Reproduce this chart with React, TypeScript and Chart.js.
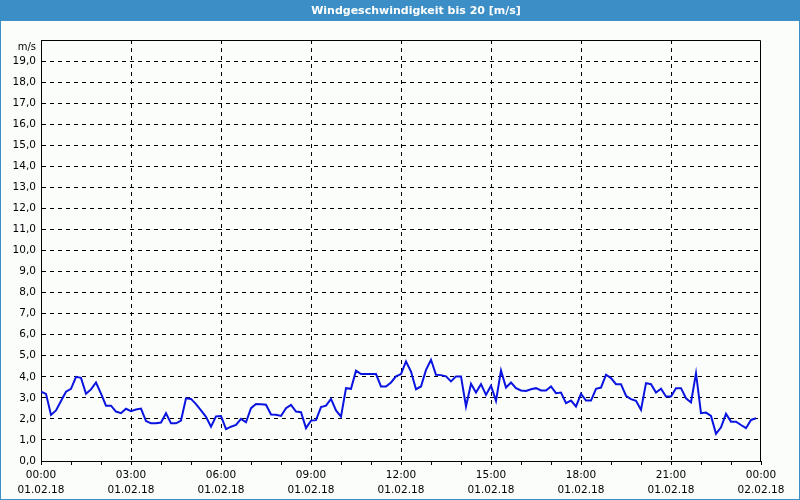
import React, { useEffect, useRef } from "react";
import { Chart, registerables } from "chart.js";

Chart.register(...registerables);

const TITLE = "Windgeschwindigkeit bis 20 [m/s]";
const UNIT = "m/s";
const DATE_START = "01.02.18";
const DATE_END = "02.02.18";
const STEP_MINUTES = 10;

// wind speed every 10 minutes, 01.02.18 00:00 – 23:50
const windSpeed: number[] = [
  3.3, 3.19, 2.19, 2.4, 2.85, 3.29, 3.43, 4.0, 3.95, 3.19,
  3.4, 3.73, 3.2, 2.63, 2.63, 2.35, 2.27, 2.48, 2.37, 2.45,
  2.49, 1.9, 1.79, 1.79, 1.83, 2.27, 1.79, 1.79, 1.92, 2.98,
  2.95, 2.7, 2.4, 2.1, 1.63, 2.12, 2.14, 1.51, 1.63, 1.71,
  2.0, 1.84, 2.51, 2.71, 2.7, 2.67, 2.21, 2.2, 2.14, 2.51,
  2.67, 2.35, 2.32, 1.56, 1.92, 1.94, 2.56, 2.63, 2.95, 2.4,
  2.11, 3.46, 3.43, 4.29, 4.13, 4.13, 4.13, 4.13, 3.54, 3.54,
  3.73, 4.02, 4.13, 4.73, 4.25, 3.41, 3.54, 4.33, 4.81, 4.1,
  4.08, 4.02, 3.78, 4.02, 4.02, 2.59, 3.67, 3.25, 3.65, 3.14,
  3.57, 2.86, 4.3, 3.49, 3.73, 3.46, 3.35, 3.33, 3.41, 3.46,
  3.35, 3.35, 3.54, 3.22, 3.25, 2.75, 2.87, 2.59, 3.19, 2.87,
  2.87, 3.43, 3.49, 4.1, 3.94, 3.65, 3.65, 3.1, 2.94, 2.86,
  2.43, 3.7, 3.65, 3.25, 3.43, 3.06, 3.06, 3.46, 3.46, 2.98,
  2.78, 4.17, 2.27, 2.3, 2.14, 1.29, 1.6, 2.24, 1.87, 1.87,
  1.71, 1.56, 1.95, 2.03,
];

const Y_MIN = 0;
const Y_MAX = 20;
const X_MIN = 0;
const X_MAX = 1440;
const MAJOR_MINUTES = 180;
const MINOR_MINUTES = 60;

const FONT = "'DejaVu Sans', sans-serif";
const BLUE = "#3c8fc6";
const BG = "#fbfdfb";

function fmtTime(m: number): string {
  const h = Math.floor((m % 1440) / 60);
  const mm = m % 60;
  return `${String(h).padStart(2, "0")}:${String(mm).padStart(2, "0")}`;
}

const framePlugin = {
  id: "frame",
  beforeDraw(chart: any) {
    const { ctx, width, height } = chart;
    ctx.save();
    ctx.fillStyle = BG;
    ctx.fillRect(0, 0, width, height);
    ctx.fillStyle = BLUE;
    ctx.fillRect(0, 0, width, 21);
    ctx.strokeStyle = BLUE;
    ctx.lineWidth = 1;
    ctx.strokeRect(0.5, 0.5, width - 1, height - 1);
    ctx.fillStyle = "#ffffff";
    ctx.font = `bold 11px ${FONT}`;
    ctx.textAlign = "center";
    ctx.textBaseline = "middle";
    ctx.fillText(TITLE, 416, 11);
    ctx.restore();
  },
  afterDraw(chart: any) {
    const { ctx, chartArea } = chart;
    ctx.save();
    ctx.strokeStyle = "#000";
    ctx.lineWidth = 1;
    ctx.beginPath();
    ctx.moveTo(Math.round(chartArea.left) + 0.5, Math.round(chartArea.top) + 0.5);
    ctx.lineTo(Math.round(chartArea.right) - 0.5, Math.round(chartArea.top) + 0.5);
    ctx.lineTo(Math.round(chartArea.right) - 0.5, Math.round(chartArea.bottom));
    ctx.stroke();
    ctx.fillStyle = "#000";
    ctx.font = `10px ${FONT}`;
    ctx.textAlign = "right";
    ctx.textBaseline = "middle";
    ctx.fillText(UNIT, Math.round(chartArea.left) - 5, chartArea.top + 7);
    ctx.restore();
  },
};

export default function App() {
  const ref = useRef<HTMLCanvasElement | null>(null);

  useEffect(() => {
    document.body.style.margin = "0";
    const points = windSpeed.map((v, i) => ({ x: i * STEP_MINUTES, y: v }));
    const chart = new Chart(ref.current as HTMLCanvasElement, {
      type: "line",
      data: {
        datasets: [
          {
            data: points,
            borderColor: "#0a14e0",
            borderWidth: 2,
            pointRadius: 0,
            tension: 0,
            fill: false,
          },
        ],
      },
      options: {
        animation: false,
        responsive: false,
        maintainAspectRatio: false,
        devicePixelRatio: 1,
        layout: { padding: { left: 0, right: 39, top: 40, bottom: 0 } },
        plugins: {
          legend: { display: false },
          tooltip: { enabled: false },
          title: { display: false },
        },
        scales: {
          x: {
            type: "linear",
            min: X_MIN,
            max: X_MAX,
            afterFit(scale: any) {
              scale.height = 39;
            },
            afterBuildTicks(scale: any) {
              const t = [];
              for (let m = X_MIN; m <= X_MAX; m += MINOR_MINUTES) t.push({ value: m });
              scale.ticks = t;
            },
            ticks: {
              autoSkip: false,
              maxRotation: 0,
              minRotation: 0,
              padding: 3,
              color: "#000",
              font: { family: FONT, size: 10.5, lineHeight: 1.4 },
              callback: (v: any) => {
                const m = Number(v);
                if (m % MAJOR_MINUTES !== 0) return "";
                return [fmtTime(m), m >= 1440 ? DATE_END : DATE_START];
              },
            },
            grid: {
              drawTicks: true,
              tickLength: 4,
              tickColor: "#000",
              tickBorderDash: [],
              lineWidth: 1,
              color: (c: any) => {
                const m = c.tick ? c.tick.value : -1;
                return m % MAJOR_MINUTES === 0 && m > X_MIN && m < X_MAX ? "#000" : "rgba(0,0,0,0)";
              },
            },
            border: { display: true, color: "#000", width: 1, dash: [4, 4] },
          },
          y: {
            type: "linear",
            min: Y_MIN,
            max: Y_MAX,
            afterFit(scale: any) {
              scale.width = 41;
            },
            ticks: {
              stepSize: 1,
              autoSkip: false,
              padding: 5,
              color: "#000",
              font: { family: FONT, size: 10.5 },
              callback: (v: any) => (Number(v) >= Y_MAX ? "" : Number(v).toFixed(1).replace(".", ",")),
            },
            grid: {
              drawTicks: false,
              lineWidth: 1,
              color: (c: any) => {
                const v = c.tick ? c.tick.value : -1;
                return v > Y_MIN && v < Y_MAX ? "#000" : "rgba(0,0,0,0)";
              },
            },
            border: { display: true, color: "#000", width: 1, dash: [4, 4] },
          },
        },
      },
      plugins: [framePlugin],
    });
    return () => chart.destroy();
  }, []);

  return (
    <div style={{ position: "absolute", left: 0, top: 0, width: 800, height: 500 }}>
      <canvas ref={ref} width={800} height={500} style={{ display: "block", width: 800, height: 500 }} />
    </div>
  );
}
